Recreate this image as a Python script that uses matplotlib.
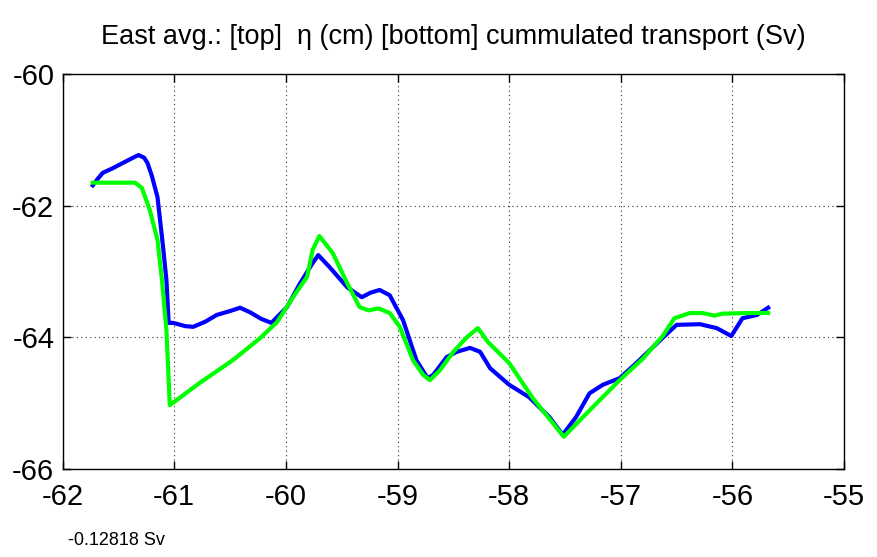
import matplotlib.pyplot as plt
from matplotlib import font_manager

# values
blue_lon = [-61.73, -61.68, -61.64, -61.55, -61.46, -61.38, -61.32, -61.27, -61.24, -61.20,
            -61.15, -61.10, -61.07, -61.05, -61.01, -60.90, -60.83, -60.72, -60.62, -60.50,
            -60.41, -60.32, -60.22, -60.13, -59.99, -59.88, -59.76, -59.71, -59.61, -59.45,
            -59.32, -59.24, -59.16, -59.07, -58.95, -58.83, -58.73, -58.68, -58.56, -58.47,
            -58.35, -58.26, -58.17, -58.00, -57.82, -57.64, -57.52, -57.40, -57.28, -57.16,
            -57.01, -56.86, -56.62, -56.50, -56.29, -56.14, -56.01, -55.91, -55.78, -55.68]
blue_eta = [-61.69, -61.58, -61.50, -61.43, -61.35, -61.28, -61.23, -61.27, -61.35, -61.55,
            -61.87, -62.63, -63.13, -63.78, -63.78, -63.83, -63.84, -63.76, -63.66, -63.60,
            -63.55, -63.62, -63.72, -63.78, -63.54, -63.20, -62.87, -62.75, -62.93, -63.24,
            -63.39, -63.32, -63.28, -63.36, -63.74, -64.35, -64.62, -64.57, -64.30, -64.22,
            -64.16, -64.22, -64.47, -64.72, -64.91, -65.21, -65.48, -65.21, -64.85, -64.72,
            -64.62, -64.39, -64.00, -63.81, -63.80, -63.86, -63.98, -63.71, -63.66, -63.55]

green_lon = [-61.73, -61.35, -61.29, -61.22, -61.15, -61.11, -61.07, -61.04, -60.77, -60.47,
             -60.23, -60.08, -59.94, -59.81, -59.76, -59.70, -59.58, -59.45, -59.34, -59.26,
             -59.17, -59.07, -58.98, -58.86, -58.77, -58.71, -58.62, -58.50, -58.38, -58.28,
             -58.19, -58.00, -57.79, -57.51, -57.28, -57.01, -56.80, -56.62, -56.52, -56.38,
             -56.27, -56.16, -56.09, -55.85, -55.68]
green_eta = [-61.65, -61.65, -61.73, -62.06, -62.52, -63.13, -63.89, -65.03, -64.69, -64.34,
             -64.01, -63.77, -63.40, -63.08, -62.67, -62.46, -62.72, -63.18, -63.54, -63.59,
             -63.56, -63.63, -63.84, -64.35, -64.57, -64.65, -64.50, -64.22, -64.00, -63.86,
             -64.07, -64.39, -64.92, -65.51, -65.11, -64.65, -64.32, -63.97, -63.71, -63.63,
             -63.63, -63.67, -63.64, -63.63, -63.63]

x_ticks = [-62, -61, -60, -59, -58, -57, -56, -55]
y_ticks = [-66, -64, -62, -60]
title = "East avg.: [top]  \u03b7 (cm) [bottom] cummulated transport (Sv)"
note = "-0.12818 Sv"

names = {f.name for f in font_manager.fontManager.ttflist}
narrow = "Liberation Sans Narrow" if "Liberation Sans Narrow" in names else "Liberation Sans"
plt.rcParams["font.family"] = [narrow, "DejaVu Sans"]
plt.rcParams["axes.unicode_minus"] = False

fig = plt.figure(figsize=(8.77, 5.57), dpi=100)
ax = fig.add_axes([0.0714, 0.158, 0.8910, 0.709])

ax.plot(blue_lon, blue_eta, color="#0000ff", lw=3, solid_joinstyle="round")
ax.plot(green_lon, green_eta, color="#00ff00", lw=3, solid_joinstyle="round")

ax.set_xlim(-62, -55)
ax.set_ylim(-66, -60)
ax.set_xticks(x_ticks)
ax.set_yticks(y_ticks)
ax.grid(True, color="#333333", linestyle=(0, (1, 3)), linewidth=0.8)
ax.tick_params(direction="in", top=True, right=True, length=6, width=1, labelsize=21)
ax.tick_params(axis="x", pad=10)
ax.tick_params(axis="y", pad=6)
for s in ax.spines.values():
    s.set_linewidth(1)

ax.set_title(title, fontsize=19.5, pad=22)
fig.text(0.078, 0.022, note, fontsize=13)

fig.savefig("out.png", dpi=100)
